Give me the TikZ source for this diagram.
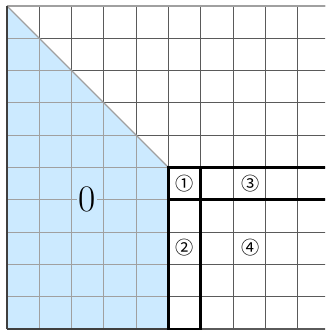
\documentclass[tikz,border=0pt]{standalone}
\usepackage{fontspec}
\newfontfamily\symfont{Noto Sans CJK JP}
\usepackage{tikz}
\usetikzlibrary{positioning}
\definecolor{cellblue}{RGB}{204,234,255}
\definecolor{gridgrey}{RGB}{90,90,90}
\definecolor{lightgrid}{RGB}{160,160,160}

\begin{document}
\begin{tikzpicture}[
    gridline/.style={gridgrey, line width=1pt},
    blueline/.style={lightgrid, line width=1pt},
    border/.style={black, line width=2.6pt},
    region/.style={font=\symfont\fontsize{16}{18}\selectfont, inner sep=0pt},
    zero/.style={font=\fontsize{33}{36}\selectfont, fill=cellblue, inner sep=1pt}
]
\useasboundingbox (-0.216,-0.03) rectangle (9.846,10.185);
\clip (-0.216,-0.03) rectangle (9.846,10.185);

% full grid
\foreach \i in {0,...,10} {
    \draw[gridline] (\i,0) -- (\i,10);
    \draw[gridline] (0,\i) -- (10,\i);
}
\draw[lightgrid, line width=1pt] (0,10) -- (10,10);

% blue triangle and strip
\fill[cellblue] (0,10) -- (5,5) -- (5,0) -- (0,0) -- cycle;
\begin{scope}
    \clip (0,10) -- (5,5) -- (5,0) -- (0,0) -- cycle;
    \foreach \i in {1,...,9} {
        \draw[blueline] (\i,0) -- (\i,10);
        \draw[blueline] (0,\i) -- (5,\i);
    }
\end{scope}
\draw[blueline] (0,10) -- (5,5);
\draw[gridgrey!70!black, line width=1.2pt] (0,0) -- (0,10);
\draw[gridgrey!70!black, line width=1.6pt] (0,0) -- (5,0);

% label of the blue part
\node[zero] (z) at (2.47,4.0) {0};

% thick borders
\draw[border] (10,5) -- (5,5) -- (5,0) -- (6,0) -- (6,5);
\draw[border] (5,4) -- (10,4);

% circled numbers
\node[region] (r1) at (5.5,4.5) {①};
\node[region] (r3) at (7.53,4.5) {③};
\node[region] (r2) at (5.5,2.53) {②};
\node[region] (r4) at (7.53,2.53) {④};
\end{tikzpicture}
\end{document}
